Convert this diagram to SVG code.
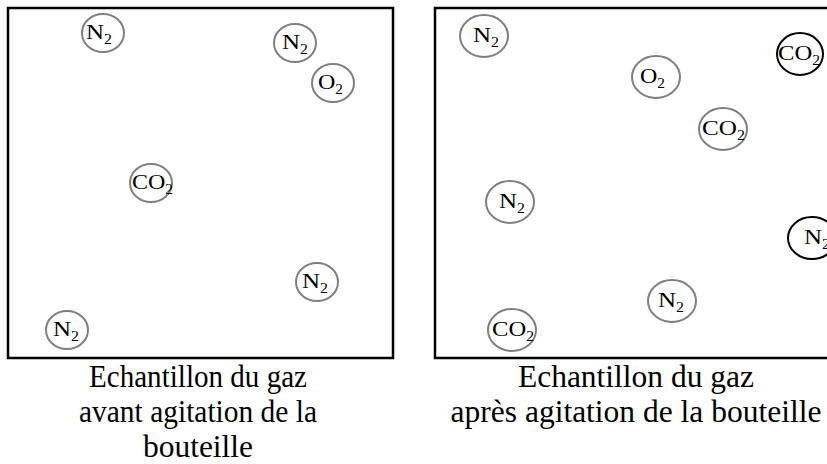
<svg xmlns="http://www.w3.org/2000/svg" width="827" height="464" viewBox="0 0 827 464">
<style>
.box{fill:#fff;stroke:#000;stroke-width:2.5}
.m{fill:#fff;stroke:#7f7f7f;stroke-width:2}
.mk{fill:#fff;stroke:#000;stroke-width:2}
.t{font-family:"Liberation Serif","Times New Roman",serif;font-size:22px;fill:#000}
.s{font-size:14px}
.cap{font-family:"Liberation Serif","Times New Roman",serif;font-size:31.5px;fill:#000;text-anchor:middle}
</style>
<rect width="827" height="464" fill="#fff"/>
<g id="box-avant">
<rect class="box" x="8" y="8" width="385" height="350"/>
</g>
<g id="box-apres">
<rect class="box" x="435" y="8" width="410" height="350"/>
</g>
<g id="avant-n2-1"><ellipse class="m" cx="103" cy="33" rx="21" ry="19"/><text class="t" x="86" y="39" textLength="26" lengthAdjust="spacingAndGlyphs">N<tspan class="s" dy="5">2</tspan></text></g>
<g id="avant-n2-2"><ellipse class="m" cx="295" cy="43" rx="21" ry="19"/><text class="t" x="282" y="49" textLength="26" lengthAdjust="spacingAndGlyphs">N<tspan class="s" dy="5">2</tspan></text></g>
<g id="avant-o2"><ellipse class="m" cx="333" cy="83" rx="21" ry="19"/><text class="t" x="318" y="89" textLength="25" lengthAdjust="spacingAndGlyphs">O<tspan class="s" dy="5">2</tspan></text></g>
<g id="avant-co2"><ellipse class="m" cx="151" cy="183" rx="21" ry="19"/><text class="t" x="132" y="189" textLength="41" lengthAdjust="spacingAndGlyphs">CO<tspan class="s" dy="5">2</tspan></text></g>
<g id="avant-n2-3"><ellipse class="m" cx="317" cy="282" rx="21" ry="19"/><text class="t" x="302" y="288" textLength="26" lengthAdjust="spacingAndGlyphs">N<tspan class="s" dy="5">2</tspan></text></g>
<g id="avant-n2-4"><ellipse class="m" cx="67" cy="330" rx="21" ry="19"/><text class="t" x="53" y="336" textLength="26" lengthAdjust="spacingAndGlyphs">N<tspan class="s" dy="5">2</tspan></text></g>
<g id="apres-n2-1"><ellipse class="m" cx="484" cy="36" rx="24" ry="21"/><text class="t" x="473" y="42" textLength="26" lengthAdjust="spacingAndGlyphs">N<tspan class="s" dy="5">2</tspan></text></g>
<g id="apres-o2"><ellipse class="m" cx="656" cy="77" rx="24" ry="21"/><text class="t" x="640" y="83" textLength="25" lengthAdjust="spacingAndGlyphs">O<tspan class="s" dy="5">2</tspan></text></g>
<g id="apres-co2-1"><ellipse class="mk" cx="800" cy="54" rx="23" ry="21"/><text class="t" x="778" y="60" textLength="42" lengthAdjust="spacingAndGlyphs">CO<tspan class="s" dy="5">2</tspan></text></g>
<g id="apres-co2-2"><ellipse class="m" cx="723" cy="129" rx="24" ry="21"/><text class="t" x="702" y="135" textLength="43" lengthAdjust="spacingAndGlyphs">CO<tspan class="s" dy="5">2</tspan></text></g>
<g id="apres-n2-2"><ellipse class="m" cx="510" cy="202" rx="24" ry="21"/><text class="t" x="499" y="208" textLength="26" lengthAdjust="spacingAndGlyphs">N<tspan class="s" dy="5">2</tspan></text></g>
<g id="apres-n2-3"><ellipse class="mk" cx="812" cy="238" rx="24" ry="21"/><text class="t" x="804" y="244" textLength="26" lengthAdjust="spacingAndGlyphs">N<tspan class="s" dy="5">2</tspan></text></g>
<g id="apres-n2-4"><ellipse class="m" cx="672" cy="301" rx="24" ry="21"/><text class="t" x="658" y="307" textLength="26" lengthAdjust="spacingAndGlyphs">N<tspan class="s" dy="5">2</tspan></text></g>
<g id="apres-co2-3"><ellipse class="m" cx="512" cy="330" rx="24" ry="21"/><text class="t" x="492" y="336" textLength="42" lengthAdjust="spacingAndGlyphs">CO<tspan class="s" dy="5">2</tspan></text></g>
<g id="caption-avant">
<text class="cap" x="198" y="387" textLength="218" lengthAdjust="spacingAndGlyphs">Echantillon du gaz</text>
<text class="cap" x="198" y="422" textLength="238" lengthAdjust="spacingAndGlyphs">avant agitation de la</text>
<text class="cap" x="198" y="457">bouteille</text>
</g>
<g id="caption-apres">
<text class="cap" x="636" y="387">Echantillon du gaz</text>
<text class="cap" x="636" y="422">après agitation de la bouteille</text>
</g>
</svg>
